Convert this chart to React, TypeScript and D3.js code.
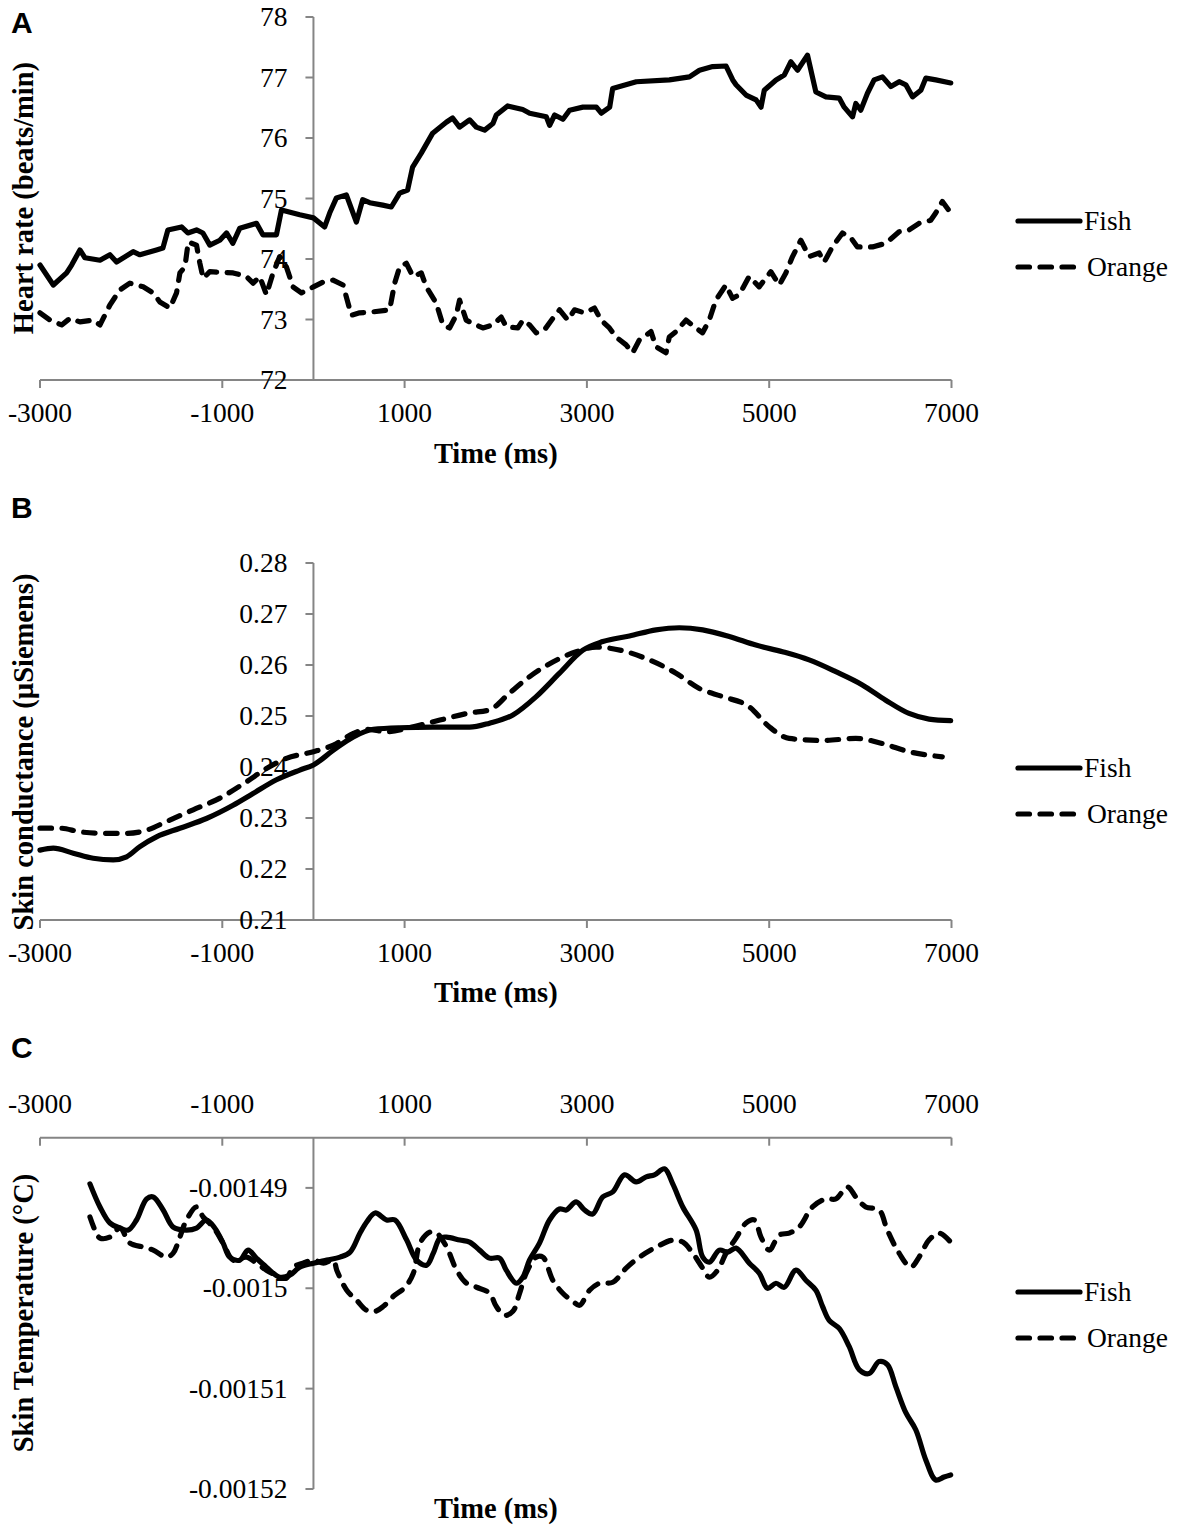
import React from 'react';
import * as d3 from 'd3';

type Pt = [number, number];

const xTicks = [-3000, -1000, 1000, 3000, 5000, 7000];
const xTickLabels = ['-3000', '-1000', '1000', '3000', '5000', '7000'];

const hrTicks = [72, 73, 74, 75, 76, 77, 78];
const hrTickLabels = ['72', '73', '74', '75', '76', '77', '78'];
const scTicks = [0.21, 0.22, 0.23, 0.24, 0.25, 0.26, 0.27, 0.28];
const scTickLabels = ['0.21', '0.22', '0.23', '0.24', '0.25', '0.26', '0.27', '0.28'];
const stTicks = [-0.00152, -0.00151, -0.0015, -0.00149];
const stTickLabels = ['-0.00152', '-0.00151', '-0.0015', '-0.00149'];

const seriesNames = ['Fish', 'Orange'];

const hrFish: Pt[] = [
  [-3000, 73.9], [-2854, 73.57], [-2708, 73.77], [-2653, 73.9], [-2562, 74.15], [-2507, 74.02], [-2342, 73.98],
  [-2233, 74.07], [-2160, 73.95], [-1978, 74.12], [-1904, 74.07], [-1722, 74.15], [-1652, 74.18], [-1597, 74.48],
  [-1447, 74.53], [-1378, 74.43], [-1283, 74.48], [-1213, 74.43], [-1137, 74.23], [-1027, 74.31], [-954, 74.43],
  [-884, 74.26], [-808, 74.51], [-625, 74.59], [-555, 74.4], [-406, 74.4], [-351, 74.81], [-150, 74.73], [0, 74.68],
  [123, 74.53], [178, 74.76], [252, 75.01], [361, 75.06], [471, 74.61], [540, 74.98], [617, 74.93], [760, 74.89],
  [854, 74.86], [946, 75.09], [1033, 75.14], [1088, 75.52], [1183, 75.75], [1308, 76.08], [1457, 76.26],
  [1527, 76.33], [1603, 76.18], [1713, 76.3], [1787, 76.18], [1878, 76.13], [1969, 76.24], [2006, 76.38],
  [2130, 76.53], [2296, 76.47], [2372, 76.41], [2555, 76.35], [2591, 76.21], [2646, 76.38], [2737, 76.31],
  [2810, 76.46], [2956, 76.51], [3104, 76.51], [3158, 76.41], [3250, 76.51], [3283, 76.82], [3542, 76.93],
  [3905, 76.96], [4125, 77.01], [4235, 77.12], [4380, 77.18], [4527, 77.19], [4600, 76.96], [4636, 76.88],
  [4746, 76.71], [4856, 76.63], [4910, 76.51], [4946, 76.79], [5075, 76.96], [5165, 77.04], [5238, 77.26],
  [5311, 77.12], [5420, 77.37], [5512, 76.76], [5622, 76.68], [5768, 76.66], [5823, 76.51], [5914, 76.35],
  [5950, 76.57], [6005, 76.46], [6078, 76.74], [6151, 76.96], [6243, 77.01], [6335, 76.85], [6426, 76.93],
  [6499, 76.88], [6572, 76.68], [6664, 76.79], [6718, 76.99], [6828, 76.96], [6992, 76.91],
];

const hrOrange: Pt[] = [
  [-3000, 73.11], [-2890, 72.99], [-2762, 72.91], [-2671, 73.02], [-2562, 72.96], [-2416, 72.99], [-2342, 72.91],
  [-2233, 73.24], [-2123, 73.49], [-2014, 73.6], [-1868, 73.54], [-1758, 73.44], [-1685, 73.29], [-1575, 73.19],
  [-1502, 73.44], [-1465, 73.77], [-1410, 73.87], [-1374, 74.28], [-1283, 74.23], [-1246, 73.93], [-1210, 73.68],
  [-1137, 73.79], [-881, 73.77], [-735, 73.71], [-662, 73.6], [-589, 73.71], [-516, 73.41], [-443, 73.77],
  [-370, 74.04], [-297, 73.87], [-224, 73.54], [-132, 73.44], [0, 73.54], [106, 73.62], [215, 73.65], [325, 73.57],
  [416, 73.07], [507, 73.11], [617, 73.12], [836, 73.16], [891, 73.6], [946, 73.87], [1019, 73.93], [1092, 73.71],
  [1183, 73.77], [1238, 73.54], [1347, 73.27], [1420, 72.91], [1493, 72.86], [1566, 73.07], [1603, 73.32],
  [1676, 72.99], [1713, 72.96], [1859, 72.86], [1969, 72.91], [2060, 73.04], [2115, 72.88], [2243, 72.86],
  [2298, 72.99], [2371, 72.91], [2444, 72.78], [2535, 72.83], [2627, 73.02], [2700, 73.16], [2791, 72.99],
  [2864, 73.16], [2974, 73.11], [3083, 73.19], [3156, 72.99], [3247, 72.86], [3320, 72.71], [3430, 72.58],
  [3502, 72.45], [3575, 72.66], [3703, 72.8], [3758, 72.55], [3868, 72.45], [3904, 72.71], [3977, 72.8],
  [4087, 72.99], [4196, 72.86], [4269, 72.78], [4342, 72.99], [4415, 73.32], [4525, 73.57], [4598, 73.35],
  [4671, 73.41], [4780, 73.71], [4890, 73.54], [5018, 73.79], [5110, 73.57], [5183, 73.77], [5256, 74.04],
  [5347, 74.31], [5438, 74.04], [5548, 74.1], [5603, 73.95], [5694, 74.2], [5804, 74.43], [5896, 74.35],
  [5968, 74.2], [6133, 74.2], [6279, 74.26], [6425, 74.45], [6535, 74.48], [6644, 74.59], [6772, 74.64],
  [6827, 74.76], [6900, 74.95], [6992, 74.76],
];

const scFish: Pt[] = [
  [-3000, 0.2237], [-2854, 0.2241], [-2635, 0.2231], [-2416, 0.2221], [-2197, 0.2218], [-2050, 0.2224],
  [-1904, 0.2244], [-1722, 0.2263], [-1466, 0.228], [-1174, 0.2299], [-882, 0.2325], [-663, 0.2348],
  [-406, 0.2375], [-150, 0.2394], [0, 0.2404], [219, 0.2433], [438, 0.2459], [657, 0.2474], [946, 0.2477],
  [1311, 0.2478], [1713, 0.2478], [1932, 0.2486], [2188, 0.2502], [2444, 0.2538], [2700, 0.2584],
  [2956, 0.2629], [3175, 0.2646], [3467, 0.2657], [3759, 0.2669], [4014, 0.2673], [4270, 0.2669],
  [4562, 0.2656], [4854, 0.2639], [5146, 0.2626], [5438, 0.261], [5730, 0.2587], [6022, 0.2561],
  [6278, 0.2531], [6534, 0.2505], [6753, 0.2494], [6991, 0.2491],
];

const scOrange: Pt[] = [
  [-3000, 0.228], [-2781, 0.228], [-2562, 0.2273], [-2342, 0.227], [-2050, 0.227], [-1831, 0.2276],
  [-1612, 0.2293], [-1320, 0.2316], [-1027, 0.2339], [-735, 0.2371], [-516, 0.2397], [-297, 0.2417],
  [0, 0.243], [219, 0.2443], [438, 0.2466], [584, 0.2474], [803, 0.2469], [1095, 0.2479], [1387, 0.2492],
  [1713, 0.2506], [1932, 0.2512], [2151, 0.2545], [2370, 0.2577], [2626, 0.2606], [2882, 0.2626],
  [3101, 0.2635], [3393, 0.2628], [3685, 0.261], [3978, 0.2584], [4233, 0.2554], [4489, 0.2538],
  [4781, 0.2518], [5000, 0.2479], [5219, 0.2456], [5584, 0.2452], [5950, 0.2456], [6242, 0.2446],
  [6534, 0.243], [6899, 0.242],
];

const stFish: Pt[] = [
  [-2452, -0.0014896], [-2342, -0.0014919], [-2233, -0.0014935], [-2123, -0.001494], [-2032, -0.0014942],
  [-1941, -0.0014932], [-1831, -0.0014911], [-1758, -0.0014909], [-1649, -0.0014922], [-1539, -0.0014939],
  [-1393, -0.0014942], [-1283, -0.001494], [-1174, -0.0014932], [-1083, -0.001494], [-991, -0.0014955],
  [-918, -0.0014969], [-808, -0.0014972], [-717, -0.0014962], [-626, -0.001497], [-516, -0.0014979],
  [-370, -0.0014989], [-260, -0.0014987], [-151, -0.0014979], [0, -0.0014975], [146, -0.0014972],
  [292, -0.0014969], [402, -0.0014964], [511, -0.0014945], [584, -0.0014934], [676, -0.0014925],
  [803, -0.0014932], [895, -0.0014932], [1023, -0.0014952], [1132, -0.0014972], [1242, -0.0014977],
  [1315, -0.0014965], [1388, -0.001495], [1461, -0.0014949], [1607, -0.0014952], [1713, -0.0014954],
  [1822, -0.0014962], [1932, -0.001497], [2042, -0.001497], [2115, -0.0014982], [2225, -0.0014995],
  [2297, -0.0014989], [2370, -0.0014972], [2480, -0.0014955], [2590, -0.0014932], [2699, -0.0014921],
  [2773, -0.0014922], [2882, -0.0014914], [2973, -0.0014922], [3064, -0.0014926], [3174, -0.0014909],
  [3284, -0.0014904], [3412, -0.0014887], [3540, -0.0014894], [3650, -0.0014889], [3741, -0.0014887],
  [3851, -0.0014881], [3942, -0.0014896], [4052, -0.0014919], [4198, -0.0014942], [4271, -0.0014969],
  [4344, -0.0014974], [4453, -0.0014962], [4544, -0.0014964], [4636, -0.001496], [4782, -0.0014975],
  [4891, -0.0014985], [4982, -0.0015], [5074, -0.0014995], [5165, -0.0014999], [5293, -0.0014982],
  [5402, -0.0014992], [5512, -0.0015002], [5585, -0.0015018], [5658, -0.0015032], [5768, -0.001504],
  [5877, -0.0015058], [5987, -0.0015081], [6096, -0.0015085], [6206, -0.0015073], [6297, -0.0015076],
  [6389, -0.0015098], [6499, -0.0015124], [6608, -0.0015141], [6718, -0.0015171], [6827, -0.0015191],
  [6918, -0.0015188], [6991, -0.0015186],
];

const stOrange: Pt[] = [
  [-2452, -0.0014929], [-2397, -0.0014942], [-2342, -0.001495], [-2233, -0.0014949], [-2123, -0.001494],
  [-2014, -0.0014955], [-1868, -0.0014959], [-1758, -0.0014962], [-1612, -0.0014969], [-1539, -0.0014965],
  [-1466, -0.0014949], [-1393, -0.0014932], [-1283, -0.0014919], [-1210, -0.0014929], [-1101, -0.0014939],
  [-991, -0.0014955], [-881, -0.0014972], [-735, -0.0014969], [-626, -0.0014975], [-516, -0.0014982],
  [-406, -0.0014987], [-297, -0.001499], [-224, -0.0014979], [-115, -0.0014975], [0, -0.0014972],
  [110, -0.0014975], [219, -0.0014972], [256, -0.0014982], [365, -0.0015002], [475, -0.0015012],
  [584, -0.0015022], [676, -0.0015023], [767, -0.0015018], [877, -0.0015008], [1005, -0.0014999],
  [1096, -0.0014985], [1169, -0.0014955], [1279, -0.0014944], [1352, -0.0014945], [1461, -0.0014959],
  [1571, -0.0014982], [1680, -0.0014995], [1790, -0.0014999], [1932, -0.0015005], [2005, -0.0015018],
  [2096, -0.0015027], [2188, -0.0015023], [2261, -0.0015005], [2334, -0.0014985], [2444, -0.0014969],
  [2517, -0.0014969], [2626, -0.0014992], [2736, -0.0015005], [2846, -0.0015013], [2919, -0.0015017],
  [3029, -0.0015002], [3138, -0.0014995], [3284, -0.0014994], [3430, -0.001498], [3576, -0.0014969],
  [3759, -0.0014959], [3942, -0.0014952], [4052, -0.0014954], [4161, -0.0014965], [4271, -0.001498],
  [4344, -0.0014989], [4435, -0.0014982], [4527, -0.0014965], [4636, -0.001495], [4746, -0.0014935],
  [4837, -0.0014932], [4910, -0.0014949], [5001, -0.0014962], [5110, -0.0014947], [5220, -0.0014945],
  [5329, -0.0014939], [5475, -0.0014919], [5621, -0.0014911], [5731, -0.0014911], [5858, -0.0014899],
  [5950, -0.0014909], [6059, -0.0014919], [6205, -0.0014922], [6296, -0.0014942], [6425, -0.0014965],
  [6553, -0.0014979], [6644, -0.0014969], [6753, -0.0014952], [6863, -0.0014945], [6991, -0.0014954],
];

const SERIF = '"Liberation Serif", "Times New Roman", serif';
const SANS = '"Liberation Sans", Arial, sans-serif';
const AXIS_COLOR = '#858585';
const DASH = '11.5,10.5';
const LINE_W = 5.2;

type PanelCfg = {
  letter: string;
  letterY: number;
  yDomain: [number, number];
  yRange: [number, number];
  yTicks: number[];
  yTickLabels: string[];
  yTitle: string;
  yTitleCenter: number;
  xAxisTop: boolean;
  xTitleY: number;
  legendY: number;
  fish: Pt[];
  orange: Pt[];
  curve: d3.CurveFactory;
};

const x = d3.scaleLinear().domain([-3000, 7000]).range([40, 951.5]);

function Panel({ cfg }: { cfg: PanelCfg }) {
  const y = d3.scaleLinear().domain(cfg.yDomain).range(cfg.yRange);
  const x0 = x(0);
  const axisY = cfg.xAxisTop ? Math.min(...cfg.yRange) : Math.max(...cfg.yRange);
  const yTop = Math.min(...cfg.yRange);
  const yBot = Math.max(...cfg.yRange);
  const line = d3
    .line<Pt>()
    .x((d) => x(d[0]))
    .y((d) => y(d[1]))
    .curve(cfg.curve);
  const xLabelY = cfg.xAxisTop ? axisY - 24.5 : axisY + 42;
  return (
    <g>
      <text x={11} y={cfg.letterY} fontFamily={SANS} fontWeight="bold" fontSize={30} fill="#000">
        {cfg.letter}
      </text>
      {/* x axis */}
      <line x1={x(-3000)} x2={x(7000)} y1={axisY} y2={axisY} stroke={AXIS_COLOR} strokeWidth={2} />
      {xTicks.map((t) => (
        <line key={'xt' + t} x1={x(t)} x2={x(t)} y1={axisY} y2={axisY + 8} stroke={AXIS_COLOR} strokeWidth={2} />
      ))}
      {xTicks.map((t, i) => (
        <text key={'xl' + t} x={x(t)} y={xLabelY} textAnchor="middle" fontFamily={SERIF} fontSize={27.5} fill="#000">
          {xTickLabels[i]}
        </text>
      ))}
      {/* y axis */}
      <line x1={x0} x2={x0} y1={yTop} y2={yBot} stroke={AXIS_COLOR} strokeWidth={2} />
      {cfg.yTicks.map((t) => (
        <line key={'yt' + t} x1={x0 - 8} x2={x0} y1={y(t)} y2={y(t)} stroke={AXIS_COLOR} strokeWidth={2} />
      ))}
      {cfg.yTicks.map((t, i) => (
        <text key={'yl' + t} x={x0 - 26} y={y(t) + 9} textAnchor="end" fontFamily={SERIF} fontSize={27.5} fill="#000">
          {cfg.yTickLabels[i]}
        </text>
      ))}
      {/* titles */}
      <text
        transform={`translate(33,${cfg.yTitleCenter}) rotate(-90)`}
        textAnchor="middle"
        fontFamily={SERIF}
        fontWeight="bold"
        fontSize={28.5}
        fill="#000"
      >
        {cfg.yTitle}
      </text>
      <text x={(x(-3000) + x(7000)) / 2} y={cfg.xTitleY} textAnchor="middle" fontFamily={SERIF} fontWeight="bold" fontSize={28.5} fill="#000">
        Time (ms)
      </text>
      {/* series */}
      <path d={line(cfg.fish) || ''} fill="none" stroke="#000" strokeWidth={LINE_W} strokeLinejoin="round" strokeLinecap="round" />
      <path
        d={line(cfg.orange) || ''}
        fill="none"
        stroke="#000"
        strokeWidth={LINE_W}
        strokeDasharray={DASH}
        strokeLinejoin="round"
        strokeLinecap="round"
      />
      {/* legend */}
      {seriesNames.map((name, i) => {
        const ly = cfg.legendY + i * 46;
        return (
          <g key={name}>
            <line
              x1={1018}
              x2={i === 0 ? 1080 : 1077}
              y1={ly}
              y2={ly}
              stroke="#000"
              strokeWidth={LINE_W}
              strokeLinecap="round"
              strokeDasharray={i === 0 ? undefined : DASH}
            />
            <text x={i === 0 ? 1084 : 1087} y={ly + 9} fontFamily={SERIF} fontSize={27.5} fill="#000">
              {name}
            </text>
          </g>
        );
      })}
    </g>
  );
}

const panels: PanelCfg[] = [
  {
    letter: 'A',
    letterY: 33,
    yDomain: [72, 78],
    yRange: [380, 17],
    yTicks: hrTicks,
    yTickLabels: hrTickLabels,
    yTitle: 'Heart rate (beats/min)',
    yTitleCenter: 198,
    xAxisTop: false,
    xTitleY: 463,
    legendY: 221,
    fish: hrFish,
    orange: hrOrange,
    curve: d3.curveLinear,
  },
  {
    letter: 'B',
    letterY: 518,
    yDomain: [0.21, 0.28],
    yRange: [920, 563],
    yTicks: scTicks,
    yTickLabels: scTickLabels,
    yTitle: 'Skin conductance (\u00b5Siemens)',
    yTitleCenter: 752,
    xAxisTop: false,
    xTitleY: 1002,
    legendY: 768,
    fish: scFish,
    orange: scOrange,
    curve: d3.curveMonotoneX,
  },
  {
    letter: 'C',
    letterY: 1058,
    yDomain: [-0.00152, -0.001485],
    yRange: [1489, 1137.7],
    yTicks: stTicks,
    yTickLabels: stTickLabels,
    yTitle: 'Skin Temperature (\u00b0C)',
    yTitleCenter: 1313,
    xAxisTop: true,
    xTitleY: 1518,
    legendY: 1292,
    fish: stFish,
    orange: stOrange,
    curve: d3.curveCatmullRom.alpha(0.5),
  },
];

export default function App() {
  return (
    <svg
      width={1181}
      height={1535}
      viewBox="0 0 1181 1535"
      style={{ position: 'absolute', left: 0, top: 0, background: '#fff' }}
    >
      <rect width={1181} height={1535} fill="#fff" />
      {panels.map((p) => (
        <Panel key={p.letter} cfg={p} />
      ))}
    </svg>
  );
}
